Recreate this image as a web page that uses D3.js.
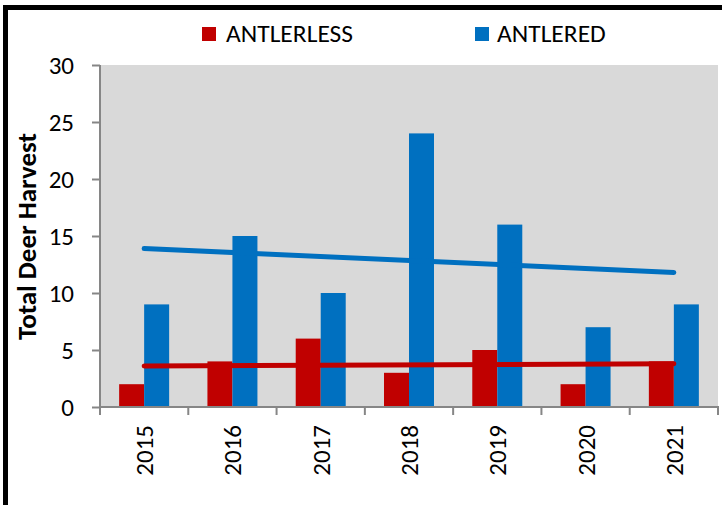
<!DOCTYPE html>
<html>
<head>
<meta charset="utf-8">
<script src="https://cdn.jsdelivr.net/npm/d3@7"></script>
<style>
  html, body { margin: 0; padding: 0; background: #fff; }
  svg { display: block; }
  text { font-family: Carlito, Lato, "Open Sans", sans-serif; fill: #000; }
</style>
</head>
<body>
<svg id="chart" width="722" height="505"></svg>
<script>
// ---- data ----
const years = ["2015", "2016", "2017", "2018", "2019", "2020", "2021"];
const seriesNames = ["ANTLERLESS", "ANTLERED"];
const antlerless = [2, 4, 6, 3, 5, 2, 4];
const antlered = [9, 15, 10, 24, 16, 7, 9];
// linear trend lines (value at 2015, value at 2021)
const trendAntlerless = [3.6, 3.8];
const trendAntlered = [13.9, 11.8];
const yTicks = [0, 5, 10, 15, 20, 25, 30];
const colors = ["#c00000", "#0070c0"];

// ---- layout ----
const W = 722, H = 505;
const plot = { left: 100, right: 718, top: 65, bottom: 407 };
const svg = d3.select("#chart");

// outer frame (left and top edges visible)
svg.append("rect")
  .attr("x", 5.5).attr("y", 7.5)
  .attr("width", 740).attr("height", 520)
  .attr("fill", "#fff")
  .attr("stroke", "#000").attr("stroke-width", 5);

const x = d3.scaleBand().domain(years).range([plot.left, plot.right]).padding(0);
const step = x.step();
const xs = d3.scaleBand().domain(seriesNames)
  .range([step / 2 - 25, step / 2 + 25]).padding(0);
const y = d3.scaleLinear().domain([0, 30]).range([plot.bottom, plot.top]);

// plot background
svg.append("rect")
  .attr("x", plot.left).attr("y", plot.top)
  .attr("width", plot.right - plot.left).attr("height", plot.bottom - plot.top)
  .attr("fill", "#d9d9d9");

// bars
const data = years.map((yr, i) => ({ year: yr, values: [antlerless[i], antlered[i]] }));
const groups = svg.append("g").selectAll("g").data(data).join("g")
  .attr("transform", d => `translate(${x(d.year)},0)`);
groups.selectAll("rect")
  .data(d => d.values.map((v, j) => ({ name: seriesNames[j], v, j })))
  .join("rect")
  .attr("x", d => xs(d.name))
  .attr("width", xs.bandwidth())
  .attr("y", d => y(d.v))
  .attr("height", d => y(0) - y(d.v))
  .attr("fill", d => colors[d.j]);

// trend lines
const cx = yr => x(yr) + step / 2;
[[trendAntlerless, colors[0]], [trendAntlered, colors[1]]].forEach(([t, c]) => {
  svg.append("line")
    .attr("x1", cx(years[0])).attr("y1", y(t[0]))
    .attr("x2", cx(years[years.length - 1])).attr("y2", y(t[1]))
    .attr("stroke", c).attr("stroke-width", 5).attr("stroke-linecap", "round");
});

// y axis
const yAxis = d3.axisLeft(y).tickValues(yTicks).tickSize(8).tickPadding(18);
const gy = svg.append("g").attr("transform", `translate(${plot.left},0)`).call(yAxis);
gy.select(".domain").attr("stroke", "#868686").attr("stroke-width", 2).attr("d", `M0,${plot.top}V${plot.bottom}`);
gy.selectAll(".tick line").attr("stroke", "#868686").attr("stroke-width", 2);
gy.selectAll(".tick text").attr("font-size", 25).attr("font-family", "Carlito, Lato, sans-serif").attr("fill", "#000");

// x axis with ticks at category boundaries
const gx = svg.append("g").attr("transform", `translate(0,${plot.bottom})`);
gx.append("line").attr("x1", plot.left).attr("x2", plot.right + 1)
  .attr("stroke", "#868686").attr("stroke-width", 2);
const bounds = years.map(yr => x(yr)).concat([plot.right]);
gx.selectAll("line.tk").data(bounds).join("line").attr("class", "tk")
  .attr("x1", d => d).attr("x2", d => d).attr("y1", 0).attr("y2", 8)
  .attr("stroke", "#868686").attr("stroke-width", 2);
gx.selectAll("text").data(years).join("text")
  .attr("transform", d => `translate(${cx(d) + 9},${18}) rotate(-90)`)
  .attr("text-anchor", "end")
  .attr("font-size", 25)
  .text(d => d);

// y title
svg.append("text")
  .attr("transform", `translate(36,236.5) rotate(-90)`)
  .attr("text-anchor", "middle")
  .attr("font-size", 27).attr("font-weight", "bold")
  .text("Total Deer Harvest");

// legend
const legendPos = [[202, 226], [475, 497]];
seriesNames.forEach((n, i) => {
  svg.append("rect").attr("x", legendPos[i][0]).attr("y", 27)
    .attr("width", 14).attr("height", 14).attr("fill", colors[i]);
  svg.append("text").attr("x", legendPos[i][1]).attr("y", 42)
    .attr("font-size", 25.5).text(n);
});
</script>
</body>
</html>
